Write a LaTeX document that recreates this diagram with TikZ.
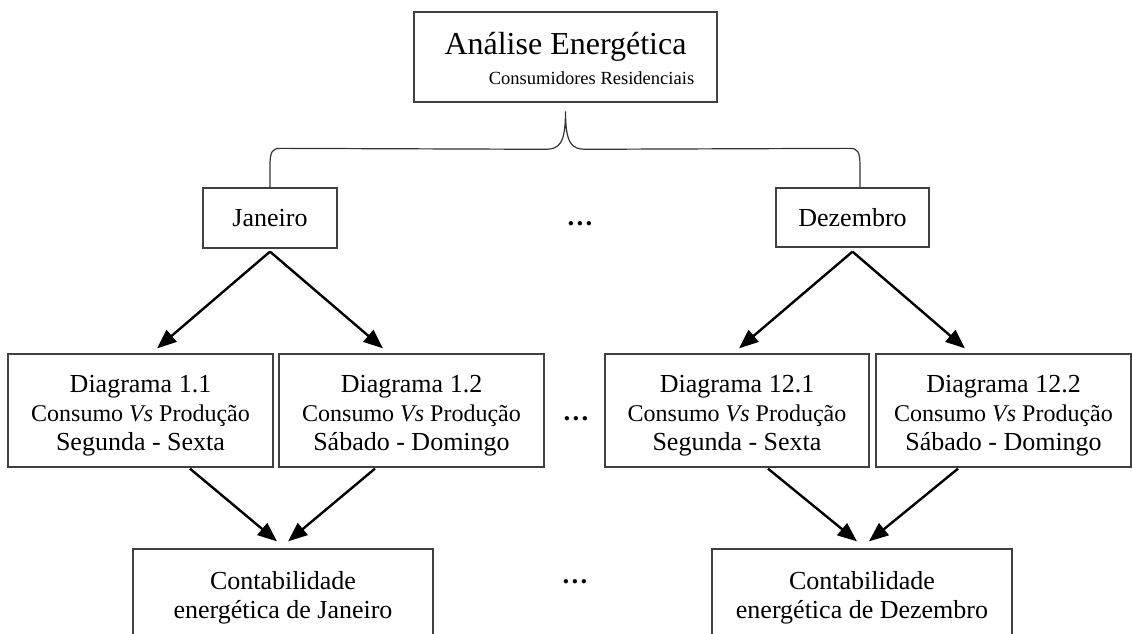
\documentclass[tikz,border=0pt]{standalone}
\usepackage{fontspec}
\setmainfont{Liberation Serif}
\usetikzlibrary{arrows.meta,calc}
\newcommand\cvp{{\fontsize{18pt}{21.75pt}\selectfont Consumo \textit{Vs} Produção}}
\newcommand\dstrut{\rule{0pt}{20pt}}
\newcommand\tstrut{\rule{0pt}{19.5pt}}
\begin{document}
\begin{tikzpicture}[x=0.75pt,y=-0.75pt,
  box/.style={draw=black!75, line width=0.95pt, inner sep=0pt, align=center},
  fmain/.style={font=\fontsize{19.5pt}{21.75pt}\selectfont},
  arr/.style={line width=1.8pt, -{Triangle[length=14.5pt,width=11.5pt]}},
  bracestyle/.style={line width=0.9pt, draw=black!80},
  dots/.style={anchor=base, font=\fontsize{20pt}{21.75pt}\selectfont\bfseries, inner sep=0pt},
]
\useasboundingbox (0,0) rectangle (1132,634);
\clip (0,0) rectangle (1132,634);

\node[box, minimum width=227.25pt, minimum height=67.5pt, font=\fontsize{24pt}{22.5pt}\selectfont] (top) at (565.5,57)
  {\tstrut\smash{Análise Energética}\\\hspace*{39pt}{\fontsize{13.9pt}{22.5pt}\selectfont Consumidores Residenciais}};

\node[box, fmain, minimum width=100.5pt, minimum height=45pt] (jan) at (270,218) {Janeiro};
\node[box, fmain, minimum width=114.75pt, minimum height=44.25pt] (dez) at (852.5,217.5) {Dezembro};

\node[box, fmain, minimum width=198.75pt, minimum height=84.75pt] (d11) at (140.5,410.5) {\dstrut Diagrama 1.1\\\cvp\\Segunda - Sexta};
\node[box, fmain, minimum width=198.75pt, minimum height=84.75pt] (d12) at (411.5,410.5) {\dstrut Diagrama 1.2\\\cvp\\Sábado - Domingo};
\node[box, fmain, minimum width=198pt, minimum height=84.75pt] (d121) at (737,410.5) {\dstrut Diagrama 12.1\\\cvp\\Segunda - Sexta};
\node[box, fmain, minimum width=191.25pt, minimum height=84.75pt] (d122) at (1003.5,410.5) {\dstrut Diagrama 12.2\\\cvp\\Sábado - Domingo};

\node[box, fmain, minimum width=225pt, minimum height=72.75pt] (cj) at (283,597.5) {Contabilidade\\energética de Janeiro};
\node[box, fmain, minimum width=225pt, minimum height=72.75pt] (cd) at (862,597.5) {Contabilidade\\energética de Dezembro};

\node[dots] (dt1) at (580,226) {…};
\node[dots] (dt2) at (576,421) {…};
\node[dots] (dt3) at (575,583) {…};

% brace
\coordinate (bt) at ([yshift=-6.5pt]top.south);
\coordinate (br) at ([xshift=5.6pt]dez.north);
\draw[bracestyle] (jan.north) -- ($(jan.north)+(0,-22)$)
  .. controls ($(jan.north)+(0,-35)$) and ($(jan.north)+(2,-39)$) .. ($(jan.north)+(10,-39)$)
  -- ($(bt)+(-20,38)$)
  .. controls ($(bt)+(-6,38)$) and ($(bt)+(0,32)$) .. (bt)
  .. controls ($(bt)+(0,32)$) and ($(bt)+(6,38)$) .. ($(bt)+(20,38)$)
  -- ($(br)+(-10,-39)$)
  .. controls ($(br)+(-2,-39)$) and ($(br)+(0,-35)$) .. ($(br)+(0,-22)$)
  -- (br);

% arrows
\draw[arr] ([yshift=-2.25pt]jan.south) -- ([xshift=12.4pt,yshift=3.75pt]d11.north);
\draw[arr] ([yshift=-2.25pt]jan.south) -- ([xshift=-21.4pt,yshift=3.75pt]d12.north);
\draw[arr] ([yshift=-3pt]dez.south) -- ([xshift=1.5pt,yshift=3.75pt]d121.north);
\draw[arr] ([yshift=-3pt]dez.south) -- ([xshift=-28.9pt,yshift=3.75pt]d122.north);

\draw[arr] ([xshift=37.1pt,yshift=-0.75pt]d11.south) -- ([xshift=-4.5pt,yshift=5.25pt]cj.north);
\draw[arr] ([xshift=-27.4pt,yshift=-0.75pt]d12.south) -- ([xshift=3.75pt,yshift=5.25pt]cj.north);
\draw[arr] ([xshift=23.25pt,yshift=-0.75pt]d121.south) -- ([xshift=-3.75pt,yshift=5.25pt]cd.north);
\draw[arr] ([xshift=-34.1pt,yshift=-0.75pt]d122.south) -- ([xshift=5.25pt,yshift=5.25pt]cd.north);
\end{tikzpicture}
\end{document}
